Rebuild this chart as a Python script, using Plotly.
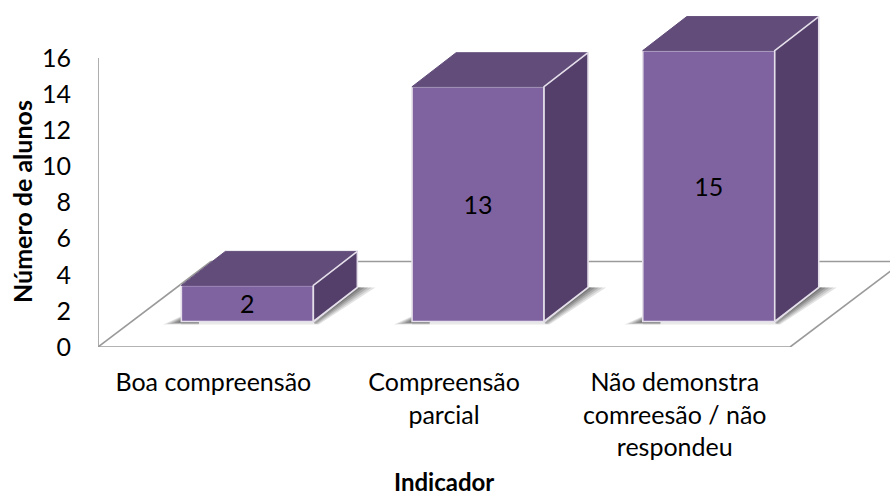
import plotly.graph_objects as go

categories = ["Boa compreensão", "Compreensão<br>parcial", "Não demonstra<br>comreesão / não<br>respondeu"]
values = [2, 13, 15]
y_ticks = [0, 2, 4, 6, 8, 10, 12, 14, 16]

# oblique projection constants (axis units)
W, H = 890, 496
L, T, B = 98, 16, 149
x_unit = 230.7
y_unit = 18.06
x_range = [-0.5, -0.5 + (W - L) / x_unit]
y_range = [0, (H - B - T) / y_unit]
floor_dx, floor_dy = 113 / x_unit, 85.5 / y_unit
bar_dx, bar_dy = 44 / x_unit, 34 / y_unit
bar_shift = 34 / x_unit
bar_base = 25.5 / y_unit
bar_w = 132 / x_unit

FRONT, TOP, SIDE = "#7F63A0", "#624C7A", "#533F69"
EDGE = "#E4DFEA"
AX = "#9A9A9A"
FONT = "Lato"
fs = 25


def line_shape(x0, y0, x1, y1):
    return dict(type="line", xref="x", yref="y", x0=x0, y0=y0, x1=x1, y1=y1,
                layer="below", line=dict(color=AX, width=1.6))


fig = go.Figure()
shapes = [
    line_shape(-0.5, 0, -0.5, 16),
    line_shape(-0.5, 0, 2.5, 0),
    line_shape(-0.5, 0, -0.5 + floor_dx, floor_dy),
    line_shape(-0.5 + floor_dx, floor_dy, x_range[1], floor_dy),
    line_shape(2.5, 0, 2.5 + floor_dx, floor_dy),
]

centers = [i + bar_shift for i in range(len(values))]

# soft contact shadows on the floor
for i, c in enumerate(centers):
    xl, xr = c - bar_w / 2, c + bar_w / 2
    for grow, alpha in ((1.0, 0.14), (0.8, 0.16), (0.6, 0.2), (0.4, 0.25), (0.2, 0.3)):
        g = grow * 18 / x_unit
        gy = (0.5 + grow * 2.5) / y_unit
        shapes.append(dict(
            type="path", xref="x", yref="y", layer="below",
            path=(f"M {xl - g} {bar_base - gy} L {xl + bar_dx * 0.4} {bar_base - gy} "
                  f"L {xl + bar_dx * 0.4} {bar_base + bar_dy * 0.4} Z"),
            fillcolor=f"rgba(60,60,60,{alpha})", line=dict(width=0)))
        shapes.append(dict(
            type="path", xref="x", yref="y", layer="below",
            path=(f"M {xr} {bar_base - gy} L {xr + bar_dx} {bar_base + bar_dy} "
                  f"L {xr + bar_dx + g} {bar_base + bar_dy} L {xr + g * 0.3} {bar_base - gy} Z"),
            fillcolor=f"rgba(60,60,60,{alpha})", line=dict(width=0)))
    shapes.append(dict(
        type="rect", xref="x", yref="y", layer="below",
        x0=xl, x1=xr, y0=bar_base - 3 / y_unit, y1=bar_base,
        fillcolor="rgba(90,90,90,0.14)", line=dict(width=0)))

fig.add_trace(go.Bar(
    x=centers, y=values, base=[bar_base] * len(values), width=bar_w,
    marker=dict(color=FRONT, line=dict(color=EDGE, width=1.6)),
    text=[str(v) for v in values], textposition="inside", insidetextanchor="middle",
    textangle=0, constraintext="none",
    textfont=dict(family=FONT, size=fs, color="#000000"), hoverinfo="skip", showlegend=False,
))

for c, v in zip(centers, values):
    xl, xr = c - bar_w / 2, c + bar_w / 2
    ytop = bar_base + v
    fig.add_trace(go.Scatter(
        x=[xl, xr, xr + bar_dx, xl + bar_dx, xl],
        y=[ytop, ytop, ytop + bar_dy, ytop + bar_dy, ytop],
        mode="lines", fill="toself", fillcolor=TOP,
        line=dict(color=TOP, width=1), hoverinfo="skip", showlegend=False))
    fig.add_trace(go.Scatter(
        x=[xr, xr + bar_dx, xr + bar_dx, xr, xr],
        y=[bar_base, bar_base + bar_dy, ytop + bar_dy, ytop, bar_base],
        mode="lines", fill="toself", fillcolor=SIDE,
        line=dict(color=EDGE, width=1.6), hoverinfo="skip", showlegend=False))

fig.update_layout(
    width=W, height=H, autosize=False,
    margin=dict(l=L, r=0, t=T, b=B, pad=0),
    paper_bgcolor="white", plot_bgcolor="white",
    shapes=shapes, showlegend=False, barmode="overlay",
    font=dict(family=FONT, color="#000000"),
    xaxis=dict(range=x_range, tickmode="array", tickvals=[0, 1, 2], ticktext=categories,
               showgrid=False, zeroline=False, showline=False,
               ticks="outside", ticklen=13, tickcolor="rgba(0,0,0,0)",
               tickangle=0, tickfont=dict(family=FONT, size=fs, color="#000000")),
    yaxis=dict(range=y_range, tickmode="array", tickvals=y_ticks,
               showgrid=False, zeroline=False, showline=False,
               ticks="outside", ticklen=21, tickcolor="rgba(0,0,0,0)",
               tickfont=dict(family=FONT, size=fs, color="#000000")),
    annotations=[
        dict(text="<b>Indicador</b>", xref="paper", yref="paper", showarrow=False,
             x=(444 - L) / (W - L), y=-(481.5 - (H - B)) / (H - B - T),
             xanchor="center", yanchor="middle",
             font=dict(family=FONT, size=24, color="#000000")),
        dict(text="<b>Número de alunos</b>", xref="paper", yref="paper", showarrow=False,
             x=-(L - 22) / (W - L), y=(H - B - 202) / (H - B - T), textangle=-90,
             xanchor="center", yanchor="middle",
             font=dict(family=FONT, size=25, color="#000000")),
    ],
)

fig.write_html("out.html", config=dict(displayModeBar=False),
               post_script="document.body.style.margin='0';document.documentElement.style.overflow='hidden';")
